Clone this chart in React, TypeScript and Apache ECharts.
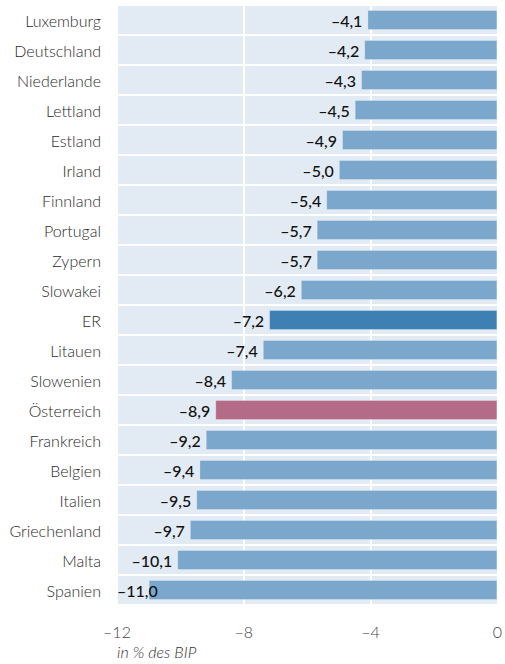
import React, { useEffect, useRef } from "react";
import * as echarts from "echarts";

const countries = [
  "Luxemburg", "Deutschland", "Niederlande", "Lettland", "Estland", "Irland",
  "Finnland", "Portugal", "Zypern", "Slowakei", "ER", "Litauen", "Slowenien",
  "Österreich", "Frankreich", "Belgien", "Italien", "Griechenland", "Malta", "Spanien",
];
const values = [
  -4.1, -4.2, -4.3, -4.5, -4.9, -5.0, -5.4, -5.7, -5.7, -6.2, -7.2, -7.4, -8.4,
  -8.9, -9.2, -9.4, -9.5, -9.7, -10.1, -11.0,
];
const xTicks = [-12, -8, -4, 0];
const axisNote = "in % des BIP";

const FONT = "Lato, 'Open Sans', sans-serif";
const BASE = "#7aa7cb";
const highlight: Record<string, string> = { ER: "#3f80b4", "Österreich": "#b36b88" };

const fmt = (v: number) => (v < 0 ? "–" : "") + Math.abs(v).toFixed(1).replace(".", ",");

export default function App() {
  const ref = useRef<HTMLDivElement>(null);
  useEffect(() => {
    if (!ref.current) return;
    const chart = echarts.init(ref.current, undefined, { renderer: "svg" });
    chart.setOption({
      animation: false,
      backgroundColor: "#ffffff",
      grid: {
        left: 117, right: 7, top: 5, height: 600,
        show: true, backgroundColor: "#e2ebf4", borderWidth: 0,
      },
      xAxis: {
        type: "value", min: xTicks[0], max: xTicks[xTicks.length - 1], interval: 4,
        axisLine: { show: false }, axisTick: { show: false },
        splitLine: { show: true, lineStyle: { color: "#ffffff", width: 2 } },
        axisLabel: {
          margin: 18, fontFamily: FONT, fontSize: 16, fontWeight: 300, color: "#444444",
          formatter: (v: number) => (v < 0 ? "–" + Math.abs(v) : String(v)),
        },
      },
      yAxis: {
        type: "category", data: countries, inverse: true,
        axisLine: { show: false }, axisTick: { show: false },
        splitLine: { show: true, lineStyle: { color: "#ffffff", width: 2 } },
        axisLabel: { margin: 16, fontFamily: FONT, fontSize: 16, fontWeight: 300, color: "#2a2a2a" },
      },
      graphic: [{
        type: "text", left: 117, top: 643,
        style: { text: axisNote, fontFamily: FONT, fontSize: 16, fontWeight: 300, fontStyle: "italic", fill: "#333333" },
      }],
      series: [{
        type: "bar", barWidth: 20,
        data: values.map((v, i) => {
          const c = countries[i];
          const d: any = {
            value: v,
            itemStyle: { color: highlight[c] || BASE },
          };
          if (c === "Spanien") d.label = { offset: [14, 0] };
          return d;
        }),
        itemStyle: { borderColor: "rgba(255,255,255,0.25)", borderWidth: 1 },
        label: {
          show: true, position: "left", distance: 5,
          fontFamily: FONT, fontSize: 16, fontWeight: 500, color: "#111111",
          formatter: (p: any) => fmt(p.value),
        },
      }],
    });
    return () => chart.dispose();
  }, []);
  return <div ref={ref} style={{ position: "fixed", left: 0, top: 0, width: 505, height: 664 }} />;
}
